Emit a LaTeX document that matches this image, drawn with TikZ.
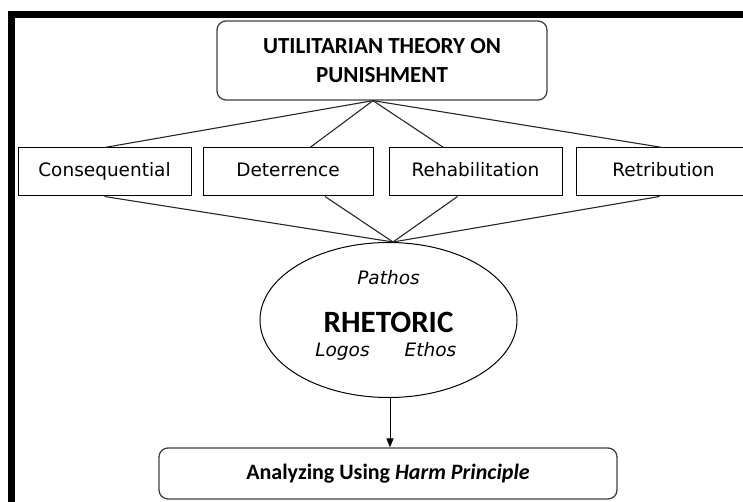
\documentclass[tikz,border=0pt]{standalone}
\usepackage{fontspec}
\setmainfont{DejaVu Sans}
\newfontfamily\calfont{Carlito}
\usetikzlibrary{arrows.meta,shapes.geometric,calc}
\tikzset{
  topbox/.style={draw=black!75,line width=1.3pt,rounded corners=9pt,align=center,inner sep=0pt},
  kindbox/.style={draw,line width=1pt,minimum height=48pt,inner sep=0pt,text height=13.5pt,text depth=4pt,font=\fontsize{18.5}{22}\selectfont},
  link/.style={line width=1.1pt,black!85},
}
\begin{document}
\begin{tikzpicture}[x=1pt,y=-1pt]
    \useasboundingbox (0,0) rectangle (743,502);
    % frame
    \fill[black] (8,11) rectangle (743,18);
    \fill[black] (8,11) rectangle (15,502);
    % theory
    \node (theory) [topbox,minimum width=330pt,minimum height=79pt,
        font=\calfont\bfseries\fontsize{23}{29}\selectfont] at (382,60.5)
        {UTILITARIAN THEORY ON\\PUNISHMENT};
    \node (cons) [kindbox,minimum width=173pt] at (104.5,172) {Consequential};
    \node (det) [kindbox,minimum width=170pt] at (288,172) {Deterrence};
    \node (rehab) [kindbox,minimum width=173pt] at (475.5,172) {Rehabilitation};
    \node (retr) [kindbox,minimum width=175pt] at (663.5,172) {Retribution};
    % rhetoric
    \node (rhet) [ellipse,draw,line width=1pt,minimum width=257pt,minimum height=155pt] at (388.5,320) {};
    \node (pathos) at ($(rhet.center)+(0,-42)$) {\fontsize{18.5}{22}\selectfont\itshape Pathos};
    \node (rhetoric) at ($(rhet.center)+(0,2)$) {\calfont\bfseries\fontsize{31}{36}\selectfont RHETORIC};
    \node (logos) [anchor=base] at ($(rhet.center)+(-46,36)$) {\fontsize{18.5}{22}\selectfont\itshape Logos};
    \node (ethos) [anchor=base] at ($(rhet.center)+(42,36)$) {\fontsize{18.5}{22}\selectfont\itshape Ethos};
    \node (harm) [topbox,minimum width=458pt,minimum height=51pt,
        font=\calfont\bfseries\fontsize{22}{26}\selectfont] at (388,473.5)
        {Analyzing Using \textit{Harm Principle}};
    % links
    \coordinate (up) at ($(theory.south)+(-9,0)$);
    \coordinate (down) at ($(rhet.north)+(4.5,0)$);
    \draw [link] (up) -- (cons.north);
    \draw [link] (up) -- ($(det.north)+(22,0)$);
    \draw [link] (up) -- ($(rehab.north)+(-32,0)$);
    \draw [link] (up) -- ($(retr.north)+(-1,0)$);
    \draw [link] (cons.south) -- (down);
    \draw [link] ($(det.south)+(37,0)$) -- (down);
    \draw [link] ($(rehab.south)+(-18,0)$) -- (down);
    \draw [link] ($(retr.south)+(-4,0)$) -- (down);
    \draw [line width=1pt,-{Triangle[length=9pt,width=7pt]}] ($(rhet.south)+(1.5,0)$) -- ($(harm.north)+(2,0)$);
\end{tikzpicture}
\end{document}
